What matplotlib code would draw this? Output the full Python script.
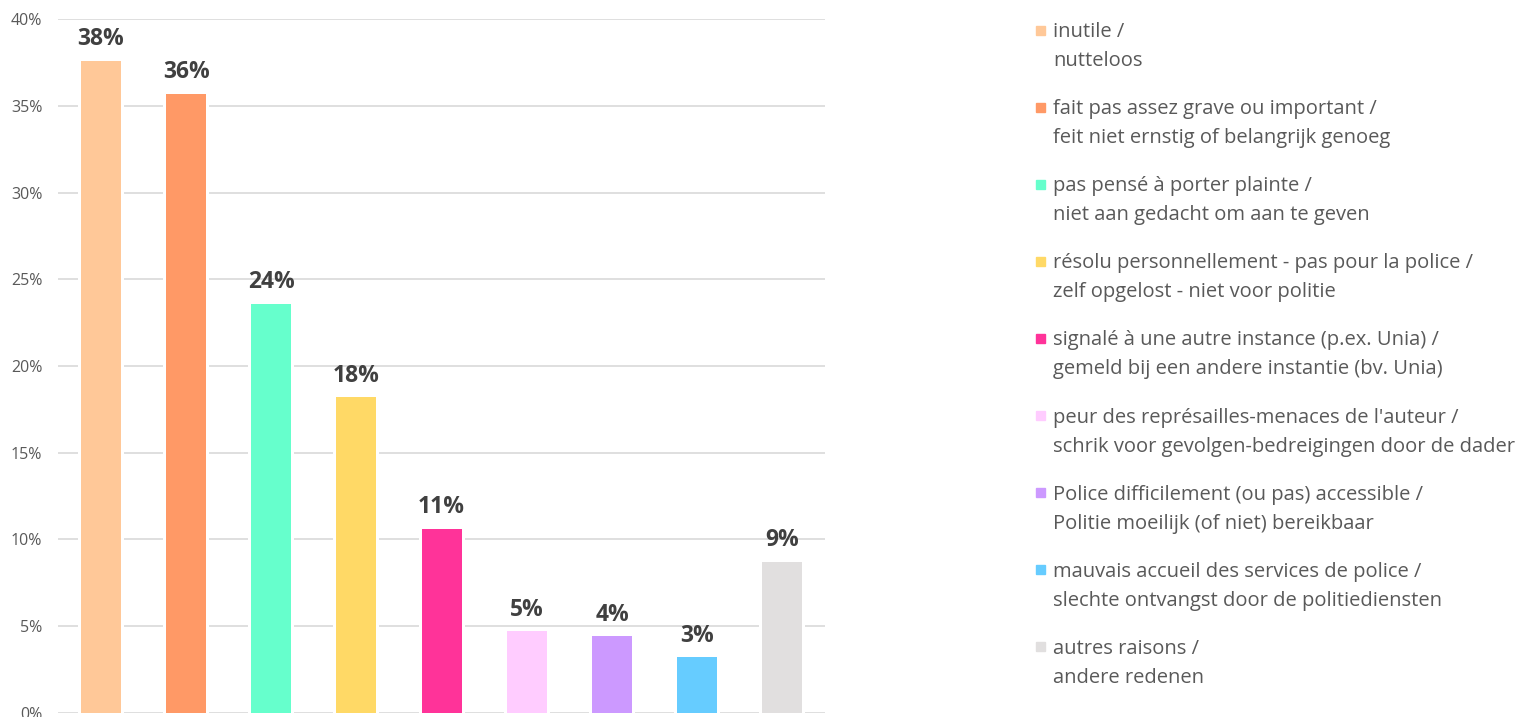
import matplotlib
matplotlib.use("Agg")
import matplotlib.pyplot as plt
from matplotlib.patches import Rectangle
from matplotlib.ticker import FuncFormatter, MultipleLocator

plt.rcParams['font.family'] = ['Open Sans', 'DejaVu Sans']

categories = [
    "inutile /\nnutteloos",
    "fait pas assez grave ou important /\nfeit niet ernstig of belangrijk genoeg",
    "pas pensé à porter plainte /\nniet aan gedacht om aan te geven",
    "résolu personnellement - pas pour la police /\nzelf opgelost - niet voor politie",
    "signalé à une autre instance (p.ex. Unia) /\ngemeld bij een andere instantie (bv. Unia)",
    "peur des représailles-menaces de l'auteur /\nschrik voor gevolgen-bedreigingen door de dader",
    "Police difficilement (ou pas) accessible /\nPolitie moeilijk (of niet) bereikbaar",
    "mauvais accueil des services de police /\nslechte ontvangst door de politiediensten",
    "autres raisons /\nandere redenen",
]
values = [37.6, 35.7, 23.6, 18.2, 10.6, 4.7, 4.4, 3.2, 8.7]
labels = ["38%", "36%", "24%", "18%", "11%", "5%", "4%", "3%", "9%"]
colors = ["#FFC898", "#FF9966", "#66FFCC", "#FFD966", "#FF3399",
          "#FFCCFF", "#CC99FF", "#66CCFF", "#E1DFDF"]

W, H = 1517, 717
fig = plt.figure(figsize=(W / 100, H / 100), dpi=100)
ax = fig.add_axes([58.3 / W, 1 - 712.7 / H, (825 - 58.3) / W, (712.7 - 19.3) / H])

x = list(range(len(values)))
bw = 0.47
# white halo behind bars (interrupts gridlines)
ax.bar(x, values, width=bw + 6 / 85.2, color="white", zorder=2)
ax.bar(x, values, width=bw, color=colors, zorder=3)

for xi, v, lab in zip(x, values, labels):
    ax.annotate(lab, (xi, v), xytext=(0, 11.3), textcoords="offset points",
                ha="center", va="baseline", fontsize=16.5, fontweight="bold",
                color="#404040", zorder=4)

ax.set_xlim(-0.5, len(values) - 0.5)
ax.set_ylim(0, 40)
ax.yaxis.set_major_locator(MultipleLocator(5))
ax.yaxis.set_major_formatter(FuncFormatter(lambda v, p: f"{v:.0f}%"))
ax.set_xticks([])
ax.tick_params(axis="y", length=0, pad=11.5, labelsize=11.5, labelcolor="#595959")
ax.grid(axis="y", color="#D9D9D9", linewidth=1.2, zorder=0)
ax.set_axisbelow(True)
for s in ax.spines.values():
    s.set_visible(False)

# legend drawn manually
y0 = 30
step = 77.1
for i, (cat, col) in enumerate(zip(categories, colors)):
    yc = y0 + i * step
    fig.patches.append(Rectangle((1036 / W, 1 - (yc + 4.5) / H), 9 / W, 9 / H,
                                 transform=fig.transFigure, color=col))
    fig.text(1053 / W, 1 - (yc + 9.5) / H, cat, ha="left", va="center_baseline",
             fontsize=14.5, color="#595959", linespacing=1.6,
             multialignment="left")

fig.savefig("out.png", dpi=100)
